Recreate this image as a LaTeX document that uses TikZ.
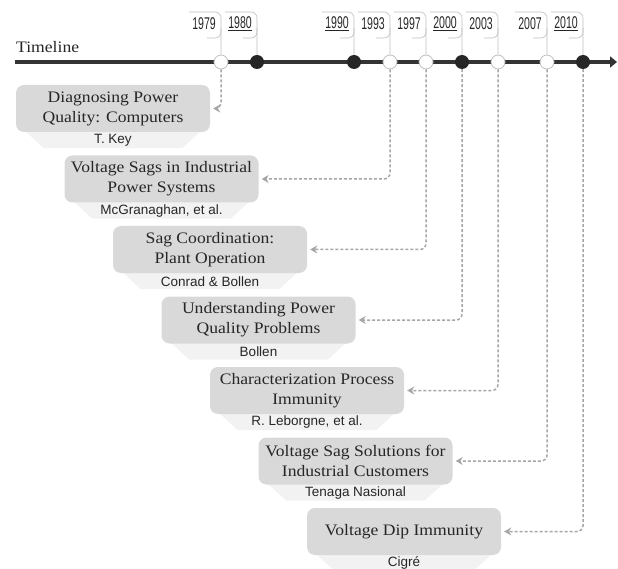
\documentclass[tikz,border=0pt]{standalone}
\usepackage{fontspec}
\usetikzlibrary{arrows.meta,backgrounds}
\newfontfamily\authorfont{Liberation Sans}
\newfontfamily\titlefont[FakeStretch=1.1]{Liberation Serif}
\newfontfamily\yearfont[FakeStretch=0.62]{Liberation Sans}
\definecolor{boxgray}{HTML}{D9D9D9}
\definecolor{trapgray}{HTML}{F2F2F2}
\definecolor{txt}{HTML}{262626}
\definecolor{linegray}{HTML}{333333}
\definecolor{dashgray}{HTML}{A6A6A6}
\definecolor{framegray}{HTML}{BFBFBF}
\begin{document}
\begin{tikzpicture}[x=1pt,y=-1pt,
  titlebox/.style={rectangle,rounded corners=8pt,fill=boxgray,minimum width=194pt,minimum height=47pt,inner sep=0pt,align=center,text=txt,font=\titlefont\fontsize{16}{20}\selectfont},
  authortext/.style={font=\authorfont\fontsize{13.5}{15}\selectfont,text=txt,inner sep=0pt},
  trap/.style={fill=trapgray},
  opendot/.style={circle,minimum size=14pt,inner sep=0pt,fill=white,draw=framegray,line width=0.8pt},
  fulldot/.style={circle,minimum size=14pt,inner sep=0pt,fill=txt},
  yeartext/.style={font=\yearfont\fontsize{17}{17}\selectfont,text=txt,inner sep=0pt,anchor=east},
  frame/.style={draw=framegray,line width=0.6pt,rounded corners=6pt},
  timeline/.style={draw=linegray,line width=3.5pt,-{Triangle[length=7pt,width=11pt]}},
  conn/.style={draw=dashgray,line width=1.5pt,dash pattern=on 3pt off 2pt,rounded corners=6pt,-{Stealth[length=7pt,width=8pt]},shorten >=3pt},
  titlelabel/.style={font=\titlefont\fontsize{16}{16}\selectfont,text=txt,inner sep=0pt,anchor=base west}
]
\useasboundingbox (0,0) rectangle (618,569);

% timeline
\coordinate (tl0) at (15,62);
\coordinate (tl1) at (617,62);
\draw[timeline] (tl0) -- (tl1);
\node[titlelabel] (tltext) at (16,53) {Timeline};

% dots
\node[opendot] (d1979) at (221,62) {};
\node[fulldot] (d1980) at (257,62) {};
\node[fulldot] (d1990) at (354,62) {};
\node[opendot] (d1993) at (390,62) {};
\node[opendot] (d1997) at (426,62) {};
\node[fulldot] (d2000) at (462,62) {};
\node[opendot] (d2003) at (498,62) {};
\node[opendot] (d2007) at (547,62) {};
\node[fulldot] (d2010) at (583,62) {};

% year labels with frames
\foreach \x/\n/\t in {221/1979/{1979},257/1980/{\underline{1980}},354/1990/{\underline{1990}},390/1993/{1993},426/1997/{1997},462/2000/{\underline{2000}},498/2003/{2003},547/2007/{2007},583/2010/{\underline{2010}}}{
  \draw[frame] (\x-32,12) -- (\x,12) -- (d\n.north);
  \draw[frame] (\x,28) -- (\x,38) -- (\x-14,38);
  \node[yeartext] (y\n) at (\x-5,24) {\t};
}

% boxes
\node[titlebox] (b1) at (113,108.5) {Diagnosing Power\\Quality: Computers};
\node[titlebox] (b2) at (161.5,179) {Voltage Sags in Industrial\\Power Systems};
\node[titlebox] (b3) at (210,249.5) {Sag Coordination:\\Plant Operation};
\node[titlebox] (b4) at (258.5,320) {Understanding Power\\Quality Problems};
\node[titlebox] (b5) at (307,390.5) {Characterization Process\\Immunity};
\node[titlebox] (b6) at (355.5,461) {Voltage Sag Solutions for\\Industrial Customers};
\node[titlebox] (b7) at (404,531.5) {Voltage Dip Immunity};

% trapezoids behind
\begin{scope}[on background layer]
\foreach \b in {b1,b2,b3,b4,b5,b6,b7}{
  \fill[trap] ([xshift=2pt,yshift=8pt]\b.south west) -- ([xshift=-2pt,yshift=8pt]\b.south east)
     -- ([xshift=-28pt,yshift=-16pt]\b.south east) -- ([xshift=28pt,yshift=-16pt]\b.south west) -- cycle;
}
\end{scope}

% authors
\node[authortext] (a1) at ([yshift=-8pt]b1.south) {T. Key};
\node[authortext] (a2) at ([yshift=-8pt]b2.south) {McGranaghan, et al.};
\node[authortext] (a3) at ([yshift=-8pt]b3.south) {Conrad \& Bollen};
\node[authortext] (a4) at ([yshift=-8pt]b4.south) {Bollen};
\node[authortext] (a5) at ([yshift=-8pt]b5.south) {R. Leborgne, et al.};
\node[authortext] (a6) at ([yshift=-8pt]b6.south) {Tenaga Nasional};
\node[authortext] (a7) at ([yshift=-8pt]b7.south) {Cigré};

% connectors
\draw[conn] (d1979.south) |- (b1.east);
\draw[conn] (d1993.south) |- (b2.east);
\draw[conn] (d1997.south) |- (b3.east);
\draw[conn] (d2000.south) |- (b4.east);
\draw[conn] (d2003.south) |- (b5.east);
\draw[conn] (d2007.south) |- (b6.east);
\draw[conn] (d2010.south) |- (b7.east);
\end{tikzpicture}
\end{document}
